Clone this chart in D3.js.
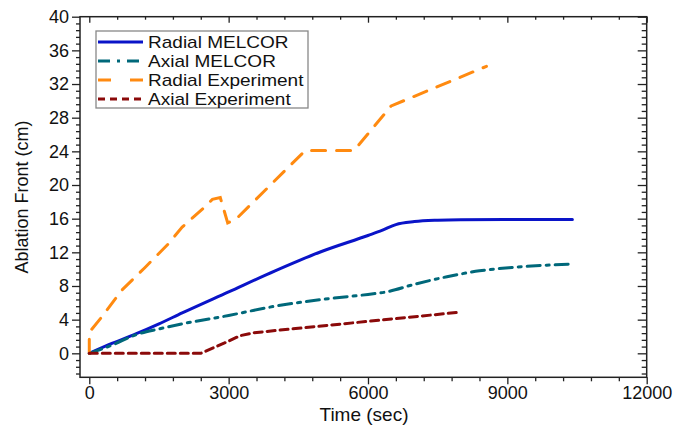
<!DOCTYPE html>
<html>
<head>
<meta charset="utf-8">
<script src="https://cdn.jsdelivr.net/npm/d3@7"></script>
<style>
  body { margin: 0; background: #fff; }
  text { font-family: Arial, "Liberation Sans", sans-serif; }
</style>
</head>
<body>
<div id="chart"></div>
<script>
// series: [time (sec), ablation front (cm)]
var radialMelcor = [[0,0],[500,1.2],[1000,2.3],[1500,3.5],[2000,4.8],[3000,7.3],[4000,9.8],
  [5000,12.1],[6000,14.0],[6300,14.6],[6600,15.3],[7000,15.65],[7500,15.82],[8000,15.88],[9000,15.9],[10400,15.9]];
var axialMelcor = [[0,0],[500,1.0],[1000,2.2],[1500,2.9],[2000,3.5],[3000,4.5],[4000,5.6],[5000,6.4],
  [6000,7.0],[6400,7.3],[7000,8.2],[7700,9.1],[8400,9.8],[9100,10.2],[10400,10.6]];
var radialExp = [[0,0],[0,2.5],[250,4.2],[700,7.5],[1200,10.2],[1700,13.0],[2000,15.0],[2450,17.2],
  [2650,18.3],[2820,18.5],[2980,15.5],[3150,15.9],[4650,24.1],[5700,24.1],[6500,29.4],[8550,34.1]];
var axialExp = [[0,0],[2400,0],[2900,1.2],[3250,2.1],[3550,2.45],[8000,4.9]];

var seriesNames = ["Radial MELCOR", "Axial MELCOR", "Radial Experiment", "Axial Experiment"];
var xTicks = [0, 3000, 6000, 9000, 12000];
var yTicks = [0, 4, 8, 12, 16, 20, 24, 28, 32, 36, 40];

var width = 688,
    height = 427;

var svg = d3.select('#chart')
      .append('svg')
      .attr('width', width)
      .attr('height', height);

var pLeft = 80, pRight = 646.7, pTop = 16.7, pBottom = 377.3;

var x = d3.scaleLinear().domain([-200, 12000]).range([pLeft, pRight]);
var y = d3.scaleLinear().domain([-2.85, 40]).range([pBottom, pTop]);

var xMinor = d3.range(0, 12001, 600).filter(d => xTicks.indexOf(d) < 0);
var yMinor = d3.range(-2.4, 40.01, 0.8).map(d => +d.toFixed(1)).filter(d => yTicks.indexOf(d) < 0);

// ticks: left/bottom point out, top/right point in
function drawAxis(axis, tr, major, minor, bigLen, smallLen, labels) {
  var g = svg.append('g').attr('transform', tr);
  g.call(axis.tickValues(minor).tickSize(smallLen).tickFormat(''));
  g.select('.domain').remove();
  var g2 = svg.append('g').attr('transform', tr);
  g2.call(axis.tickValues(major).tickSize(bigLen).tickFormat(labels ? d3.format('d') : ''));
  g2.select('.domain').remove();
  g.selectAll('line').attr('stroke', '#222').attr('stroke-width', 1.3);
  g2.selectAll('line').attr('stroke', '#222').attr('stroke-width', 1.3);
  return g2;
}

var gl = drawAxis(d3.axisLeft(y), 'translate(' + pLeft + ',0)', yTicks, yMinor, 8, 4, true);
gl.selectAll('text').attr('x', -11).style('font-size', '18px').attr('fill', '#111');
var gb = drawAxis(d3.axisBottom(x), 'translate(0,' + pBottom + ')', xTicks, xMinor, 7, 4, true);
gb.selectAll('text').attr('y', 9).style('font-size', '18px').attr('fill', '#111');
drawAxis(d3.axisTop(x), 'translate(0,' + pTop + ')', xTicks, xMinor, -6, -3, false);
drawAxis(d3.axisRight(y), 'translate(' + pRight + ',0)', yTicks, yMinor, -9, -5, false);

svg.append('rect')
  .attr('x', pLeft).attr('y', pTop)
  .attr('width', pRight - pLeft).attr('height', pBottom - pTop)
  .attr('fill', 'none').attr('stroke', '#222').attr('stroke-width', 1.5);

var smooth = d3.line().x(d => x(d[0])).y(d => y(d[1])).curve(d3.curveMonotoneX);
var straight = d3.line().x(d => x(d[0])).y(d => y(d[1]));

var styles = [
  { data: radialMelcor, color: '#0a14c8', dash: null, line: smooth },
  { data: axialMelcor, color: '#00687a', dash: '13,6,3,6', line: smooth },
  { data: radialExp, color: '#ff8a10', dash: '14,11', line: straight },
  { data: axialExp, color: '#8b0a0a', dash: '8,5', line: straight }
];

styles.forEach(function(s) {
  svg.append('path')
    .attr('d', s.line(s.data))
    .attr('fill', 'none')
    .attr('stroke', s.color)
    .attr('stroke-width', 3)
    .attr('stroke-dasharray', s.dash)
    .attr('stroke-linecap', 'round');
});

// legend
var leg = svg.append('g').attr('transform', 'translate(96,31)');
leg.append('rect').attr('width', 212).attr('height', 77)
  .attr('fill', '#fff').attr('stroke', '#888').attr('stroke-width', 1.3);
seriesNames.forEach(function(name, i) {
  var yy = 11 + i * 19;
  leg.append('line').attr('x1', 2).attr('x2', 47).attr('y1', yy).attr('y2', yy)
    .attr('stroke', styles[i].color).attr('stroke-width', 3)
    .attr('stroke-dasharray', i == 1 ? '12,7,3,7' : i == 2 ? '13,19' : i == 3 ? '7,5' : null);
  leg.append('text').attr('transform', 'translate(52,' + (yy + 6) + ') scale(1.12,1)')
    .style('font-size', '17px').attr('fill', '#111').text(name);
});

svg.append('text')
  .attr('transform', 'translate(28,' + ((pTop + pBottom) / 2) + ') rotate(-90)')
  .attr('text-anchor', 'middle')
  .style('font-size', '18px').attr('fill', '#111')
  .text('Ablation Front (cm)');

svg.append('text')
  .attr('x', 364).attr('y', 421)
  .attr('text-anchor', 'middle')
  .style('font-size', '19px').attr('fill', '#111')
  .text('Time (sec)');
</script>
</body>
</html>
